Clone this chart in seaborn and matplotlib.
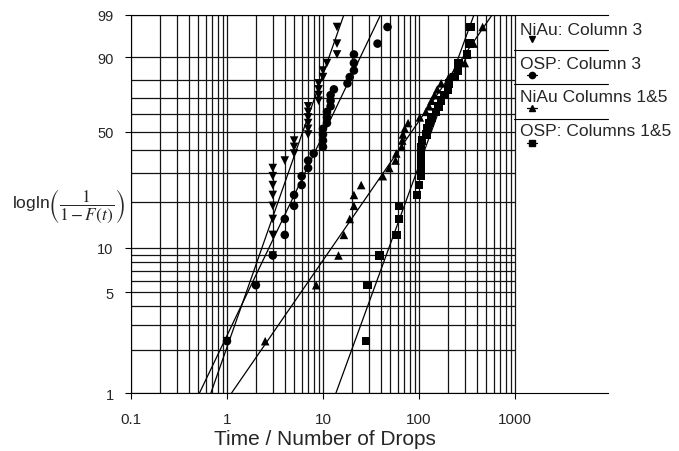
import numpy as np
import pandas as pd
import matplotlib
matplotlib.use('Agg')
import matplotlib.pyplot as plt
from matplotlib.ticker import NullLocator
import seaborn as sns

# median-rank failure probabilities (%), same 30 ranks for every series
rank_pct = [2.3, 5.6, 8.9, 12.2, 15.5, 18.8, 22.0, 25.3, 28.6, 31.9,
            35.2, 38.5, 41.8, 45.1, 48.4, 51.6, 54.9, 58.2, 61.5, 64.8,
            68.1, 71.4, 74.7, 78.0, 81.3, 84.5, 87.8, 91.1, 94.4, 97.7]

# drops to failure
niau_col3 = [1, 2, 3, 3, 3, 3, 3, 3, 3, 3,
             4, 5, 5, 5, 7, 7, 7, 7, 7, 7,
             9, 9, 9, 9, 10, 10, 11, 14, 14, 14]
osp_col3 = [1, 2, 3, 4, 4, 5, 5, 6, 6, 7,
            7, 8, 10, 10, 10, 10, 11, 11, 11, 12,
            12, 12, 13, 18, 19, 21, 21, 21, 37, 47]
niau_col15 = [2.5, 8.5, 14.5, 16.5, 19, 21, 21, 25, 42, 49,
              57, 58, 66, 67, 68, 71, 77, 102, 118, 127,
              135, 145, 155, 170, 205, 250, 300, 320, 370, 460]
osp_col15 = [28, 29, 39, 58, 62, 62, 95, 100, 105, 105,
             105, 105, 105, 108, 120, 122, 128, 135, 150, 160,
             170, 185, 200, 205, 235, 255, 258, 315, 335, 345]

series_names = ['NiAu: Column 3', 'OSP: Column 3', 'NiAu Columns 1&5', 'OSP: Columns 1&5']
series_markers = ['v', 'o', '^', 's']
# weibull fit lines (shape, scale)
fit_beta = [1.92, 1.41, 0.98, 1.85]
fit_eta = [7.46, 13.5, 122, 164]

x_ticks = [0.1, 1, 10, 100, 1000]
x_ticklabels = ['0.1', '1', '10', '100', '1000']
y_ticks = [1, 5, 10, 50, 90, 99]
y_grid = [1, 2, 3, 4, 5, 6, 7, 8, 9, 10, 20, 30, 40, 50, 60, 70, 80, 90, 99]


def weibull_fwd(p):
    p = np.clip(np.asarray(p, dtype=float), 1e-6, 100 - 1e-6)
    return np.log10(-np.log1p(-p / 100.0))


def weibull_inv(y):
    return 100.0 * (1.0 - np.exp(-10.0 ** np.asarray(y, dtype=float)))


sns.set_style('ticks')
plt.rcParams['font.family'] = ['Liberation Sans', 'DejaVu Sans']
plt.rcParams['mathtext.fontset'] = 'stix'

all_times = [niau_col3, osp_col3, niau_col15, osp_col15]
df = pd.DataFrame({
    'time': np.concatenate(all_times),
    'F': rank_pct * len(all_times),
    'series': np.repeat(series_names, [len(t) for t in all_times]),
})

fig = plt.figure(figsize=(6.79, 4.52), dpi=100)
ax = fig.add_axes([0.1929, 0.1283, 0.7025, 0.837])
ax.set_xscale('log')
ax.set_yscale('function', functions=(weibull_fwd, weibull_inv))

# grid only spans 0.1..1000
x_grid = [m * 10.0 ** k for k in range(-1, 3) for m in range(1, 10)] + [1000]
ax.vlines(x_grid, 1, 99, color='0.08', lw=0.9, zorder=1)
ax.hlines(y_grid, 0.1, 1000, color='0.08', lw=0.9, zorder=1)

sns.scatterplot(data=df, x='time', y='F', style='series',
                markers=dict(zip(series_names, series_markers)),
                color='black', edgecolor='black', linewidth=0, s=38,
                legend=False, ax=ax, zorder=3)

for beta, eta in zip(fit_beta, fit_eta):
    f_line = np.array([1.0, 99.0])
    t_line = eta * (-np.log(1 - f_line / 100.0)) ** (1.0 / beta)
    ax.plot(t_line, f_line, color='black', lw=0.9, zorder=2)

ax.set_xlim(0.1, 9300)
ax.set_ylim(1, 99)
ax.set_xticks(x_ticks)
ax.set_xticklabels(x_ticklabels)
ax.xaxis.set_minor_locator(NullLocator())
ax.set_yticks(y_ticks)
ax.set_yticklabels([str(v) for v in y_ticks])
ax.yaxis.set_minor_locator(NullLocator())
ax.tick_params(axis='x', which='major', direction='out', length=4.5, width=0.8,
               color='black', labelsize=11, pad=9, bottom=True)
ax.tick_params(axis='y', which='major', direction='out', length=4.5, width=0.8,
               color='black', labelsize=10.5, pad=8, left=True)
for side in ['left', 'bottom', 'top']:
    ax.spines[side].set_color('black')
    ax.spines[side].set_linewidth(0.8)
ax.spines['right'].set_visible(False)

ax.set_xlabel('Time / Number of Drops', fontsize=15)
ax.xaxis.set_label_coords(0.407, -0.095)
ax.set_ylabel(r'logln$\left(\dfrac{1}{1-F(t)}\right)$', fontsize=12.5,
              rotation=0, ha='right', va='center')
ax.yaxis.set_label_coords(-0.012, 0.496)

# legend block on the right
sep_y = [0.9067, 0.8168, 0.7243]
for yy in sep_y:
    ax.plot([0.803, 1.0], [yy, yy], transform=ax.transAxes, color='black',
            lw=0.8, clip_on=False)
text_y = [0.962, 0.872, 0.785, 0.693]
mark_y = [0.936, 0.841, 0.753, 0.661]
for i, (name, mk) in enumerate(zip(series_names, series_markers)):
    ax.text(0.8155, text_y[i], name, transform=ax.transAxes, fontsize=12.5,
            ha='left', va='center')
    if i > 0:
        ax.plot([0.830, 0.852], [mark_y[i], mark_y[i]], transform=ax.transAxes,
                color='black', lw=0.9, clip_on=False)
    ax.plot([0.841], [mark_y[i]], transform=ax.transAxes, marker=mk,
            color='black', ms=4.5, ls='none', clip_on=False)

fig.savefig('out.png', dpi=100)
